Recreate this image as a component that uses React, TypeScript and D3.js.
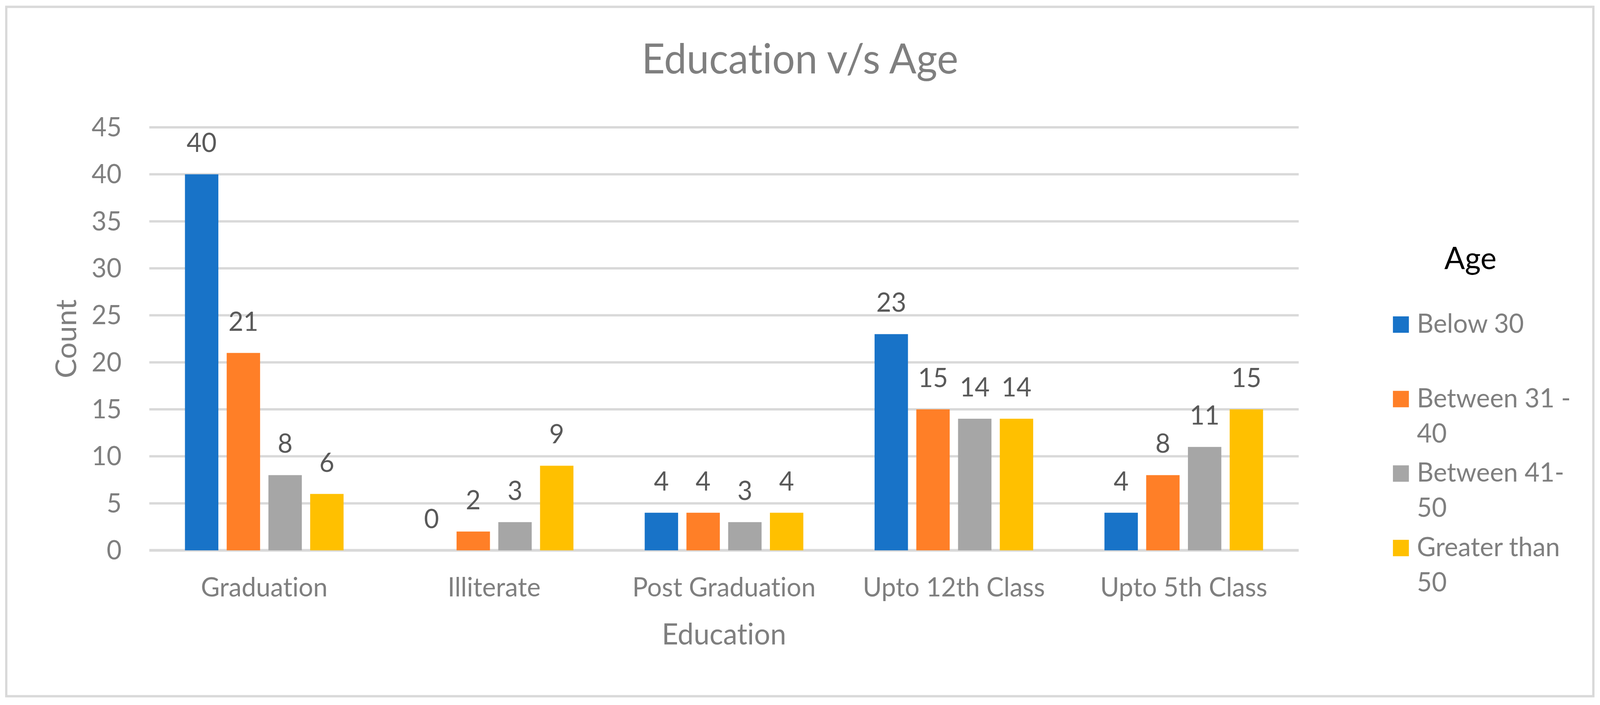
import React from 'react'
import * as d3 from 'd3'

const categories = ['Graduation', 'Illiterate', 'Post Graduation', 'Upto 12th Class', 'Upto 5th Class']
const series = ['Below 30', 'Between 31 - 40', 'Between 41-50', 'Greater than 50']
// legend wraps the long names on two lines
const legendLines = [['Below 30'], ['Between 31 -', '40'], ['Between 41-', '50'], ['Greater than', '50']]
const colors = ['#1873C8', '#FF7F27', '#A6A6A6', '#FFC000']

const below30 = [40, 0, 4, 23, 4]
const between31to40 = [21, 2, 4, 15, 8]
const between41to50 = [8, 3, 3, 14, 11]
const greaterThan50 = [6, 9, 4, 14, 15]
const values = [below30, between31to40, between41to50, greaterThan50]

const yTicks = [0, 5, 10, 15, 20, 25, 30, 35, 40, 45]

const W = 4211
const H = 1805
const margin = { top: 326, right: 793, bottom: 396, left: 393 }
const font = 'Lato, Carlito, Calibri, sans-serif'
const grey = '#7f7f7f'

const App = () => {
  const x0 = d3
    .scaleBand<string>()
    .domain(categories)
    .range([margin.left, W - margin.right])
    .paddingInner(0.31)
    .paddingOuter(0.155)
  const x1 = d3
    .scaleBand<string>()
    .domain(series)
    .range([0, x0.bandwidth()])
    .paddingInner(0.2)
  const y = d3
    .scaleLinear()
    .domain([0, 45])
    .range([H - margin.bottom, margin.top])

  const plotLeft = margin.left
  const plotRight = W - margin.right

  return (
    <div style={{ position: 'fixed', left: 0, top: 0, width: '100vw', height: '100vh', overflow: 'hidden' }}>
      <svg
        viewBox={`0 0 ${W} ${H}`}
        preserveAspectRatio="none"
        style={{
          display: 'block',
          width: '100%',
          height: '100%',
          background: '#fff',
          fontVariantLigatures: 'none',
          fontFeatureSettings: '"liga" 0, "clig" 0',
        }}
        fontFamily={font}
      >
        <rect x={0} y={0} width={W} height={H} fill="#fff" />
        <rect x={16.5} y={17.5} width={W - 34} height={H - 40} fill="none" stroke="#d9d9d9" strokeWidth={6} />

        <text x={W / 2} y={188} textAnchor="middle" fontSize={106} fill={grey}>
          Education v/s Age
        </text>

        {/* gridlines + y ticks */}
        {yTicks.map((t) => (
          <g key={t}>
            <line x1={plotLeft} x2={plotRight} y1={y(t)} y2={y(t)} stroke="#d9d9d9" strokeWidth={t === 0 ? 7 : 6} />
            <text x={320} y={y(t) + 23} textAnchor="end" fontSize={68} fill={grey}>
              {t}
            </text>
          </g>
        ))}

        {/* bars */}
        {series.map((s, si) =>
          categories.map((c, ci) => {
            const v = values[si][ci]
            const bx = (x0(c) ?? 0) + (x1(s) ?? 0)
            return (
              <g key={s + c}>
                <rect x={bx} y={y(v)} width={x1.bandwidth()} height={y(0) - y(v)} fill={colors[si]} />
                <text x={bx + x1.bandwidth() / 2} y={y(v) - 57} textAnchor="middle" fontSize={68} fill="#595959">
                  {v}
                </text>
              </g>
            )
          }),
        )}

        {/* category labels */}
        {categories.map((c) => (
          <text key={c} x={(x0(c) ?? 0) + x0.bandwidth() / 2} y={1527} textAnchor="middle" fontSize={68} fill={grey}>
            {c}
          </text>
        ))}

        <text x={(plotLeft + plotRight) / 2} y={1650} textAnchor="middle" fontSize={75} fill={grey}>
          Education
        </text>
        <text
          transform={`translate(200,${(y(0) + y(45)) / 2}) rotate(-90)`}
          textAnchor="middle"
          fontSize={75}
          fill={grey}
        >
          Count
        </text>

        {/* legend */}
        <text x={3870} y={689} textAnchor="middle" fontSize={80} fill="#000">
          Age
        </text>
        {legendLines.map((lines, i) => {
          const base = 852 + i * 190.7
          return (
            <g key={i}>
              <rect x={3666} y={base - 42} width={42} height={42} fill={colors[i]} />
              {lines.map((ln, j) => (
                <text key={j} x={3729} y={base + j * 90} fontSize={68} fill={grey}>
                  {ln}
                </text>
              ))}
            </g>
          )
        })}
      </svg>
    </div>
  )
}

export default App
